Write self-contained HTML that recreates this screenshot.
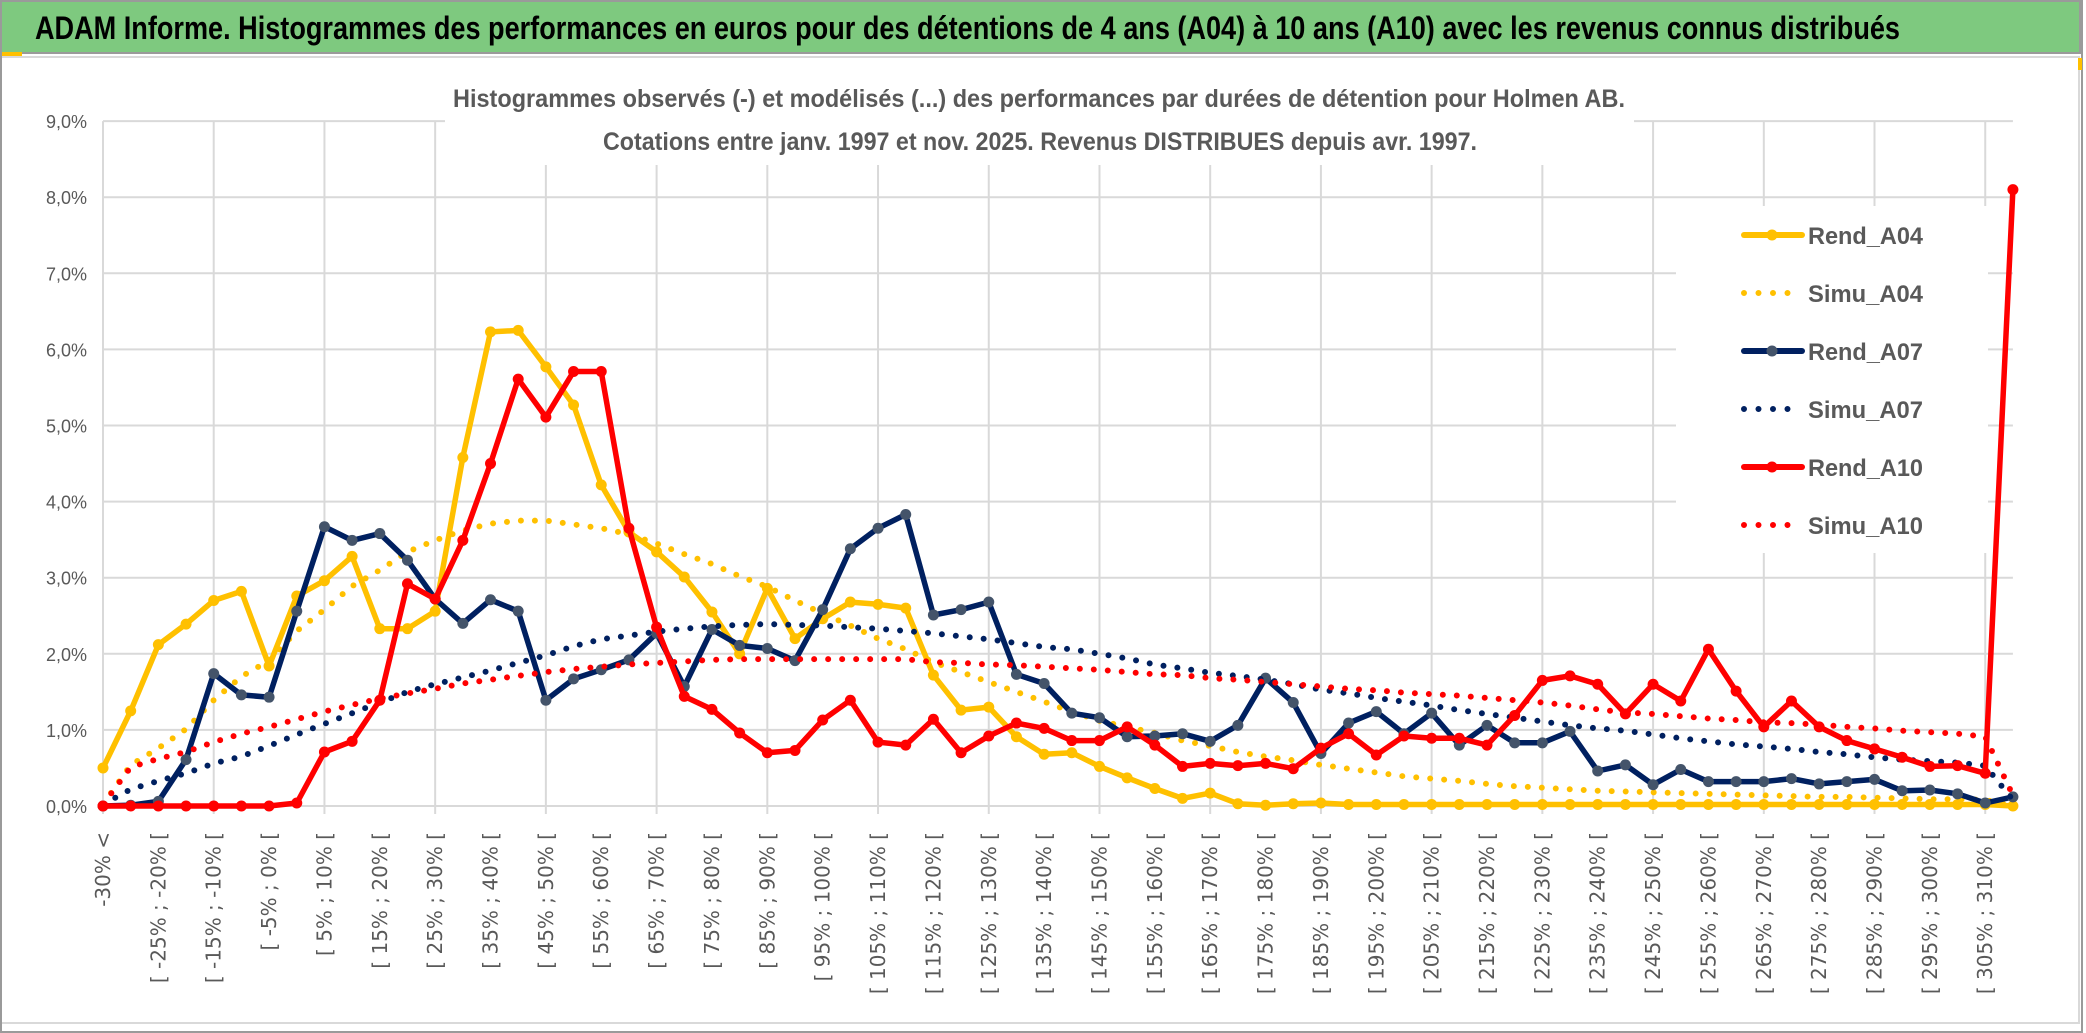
<!DOCTYPE html>
<html><head><meta charset="utf-8">
<style>
html,body{margin:0;padding:0;background:#fff;}
svg{display:block;}
</style></head>
<body>
<svg id="chart" width="2086" height="1033" viewBox="0 0 2086 1033" xmlns="http://www.w3.org/2000/svg">
  <rect x="0" y="0" width="2086" height="1033" fill="#ffffff"/>
  <rect x="1" y="1" width="2079" height="52" fill="#7ec97f" stroke="#9a9a9a" stroke-width="2"/>
  <text x="35" y="39" font-family="Liberation Sans, sans-serif" font-weight="bold" font-size="32" fill="#000" textLength="1865" lengthAdjust="spacingAndGlyphs">ADAM Informe. Histogrammes des performances en euros pour des détentions de 4 ans (A04) à 10 ans (A10) avec les revenus connus distribués</text>
  <rect x="0" y="52" width="22" height="4" fill="#ffc000"/>
  <rect x="1" y="57" width="2078" height="966" fill="none" stroke="#d9d9d9" stroke-width="2"/>
  <rect x="1" y="1" width="2081" height="1031" fill="none" stroke="#9a9a9a" stroke-width="2"/>
  <rect x="2078" y="58" width="4" height="12" fill="#ffc000"/>
  <g id="grid"></g>
  <rect x="445" y="60" width="1189" height="105" fill="#fff"/>
  <text x="1039" y="107" text-anchor="middle" font-family="Liberation Sans, sans-serif" font-weight="bold" font-size="25" fill="#595959" textLength="1172" lengthAdjust="spacingAndGlyphs">Histogrammes observés (-) et modélisés (...) des performances par durées de détention pour Holmen AB.</text>
  <text x="1040" y="150" text-anchor="middle" font-family="Liberation Sans, sans-serif" font-weight="bold" font-size="25" fill="#595959" textLength="874" lengthAdjust="spacingAndGlyphs">Cotations entre janv. 1997 et nov. 2025. Revenus DISTRIBUES depuis avr. 1997.</text>
  <g id="yaxis"></g>
  <g id="xaxis"></g>
  <rect x="1676" y="206" width="312" height="347" fill="#fff"/>
  <g id="series"></g>
  <g id="legend"></g>
</svg>
<script>
const categories = ["-30% <","[ -30% ; -25% [","[ -25% ; -20% [","[ -20% ; -15% [","[ -15% ; -10% [","[ -10% ; -5% [","[ -5% ; 0% [","[ 0% ; 5% [","[ 5% ; 10% [","[ 10% ; 15% [","[ 15% ; 20% [","[ 20% ; 25% [","[ 25% ; 30% [","[ 30% ; 35% [","[ 35% ; 40% [","[ 40% ; 45% [","[ 45% ; 50% [","[ 50% ; 55% [","[ 55% ; 60% [","[ 60% ; 65% [","[ 65% ; 70% [","[ 70% ; 75% [","[ 75% ; 80% [","[ 80% ; 85% [","[ 85% ; 90% [","[ 90% ; 95% [","[ 95% ; 100% [","[ 100% ; 105% [","[ 105% ; 110% [","[ 110% ; 115% [","[ 115% ; 120% [","[ 120% ; 125% [","[ 125% ; 130% [","[ 130% ; 135% [","[ 135% ; 140% [","[ 140% ; 145% [","[ 145% ; 150% [","[ 150% ; 155% [","[ 155% ; 160% [","[ 160% ; 165% [","[ 165% ; 170% [","[ 170% ; 175% [","[ 175% ; 180% [","[ 180% ; 185% [","[ 185% ; 190% [","[ 190% ; 195% [","[ 195% ; 200% [","[ 200% ; 205% [","[ 205% ; 210% [","[ 210% ; 215% [","[ 215% ; 220% [","[ 220% ; 225% [","[ 225% ; 230% [","[ 230% ; 235% [","[ 235% ; 240% [","[ 240% ; 245% [","[ 245% ; 250% [","[ 250% ; 255% [","[ 255% ; 260% [","[ 260% ; 265% [","[ 265% ; 270% [","[ 270% ; 275% [","[ 275% ; 280% [","[ 280% ; 285% [","[ 285% ; 290% [","[ 290% ; 295% [","[ 295% ; 300% [","[ 300% ; 305% [","[ 305% ; 310% [","[ 310% ; 315% ["];
const yTicks = [0,1,2,3,4,5,6,7,8,9];
const yTickLabels = ["0,0%","1,0%","2,0%","3,0%","4,0%","5,0%","6,0%","7,0%","8,0%","9,0%"];
const rendA04 = [0.50,1.25,2.12,2.39,2.70,2.82,1.84,2.76,2.96,3.28,2.33,2.33,2.56,4.58,6.23,6.25,5.77,5.27,4.22,
 3.60,3.34,3.01,2.55,2.00,2.86,2.20,2.46,2.68,2.65,2.60,1.72,1.26,1.30,0.91,0.68,0.70,0.52,
 0.37,0.23,0.10,0.17,0.03,0.01,0.03,0.04,0.02,0.02,0.02,0.02,0.02,0.02,0.02,0.02,0.02,0.02,
 0.02,0.02,0.02,0.02,0.02,0.02,0.02,0.02,0.02,0.02,0.02,0.02,0.02,0.02,0.00];
const simuA04 = [0.02,0.54,0.76,1.01,1.39,1.70,1.91,2.30,2.58,2.89,3.10,3.34,3.49,3.62,3.71,3.75,3.75,3.70,3.65,
 3.57,3.45,3.31,3.18,3.02,2.88,2.70,2.53,2.37,2.20,2.06,1.89,1.76,1.63,1.50,1.37,1.24,1.12,
 1.04,0.96,0.86,0.79,0.71,0.65,0.60,0.54,0.49,0.44,0.39,0.36,0.33,0.29,0.26,0.24,0.22,0.20,
 0.19,0.18,0.17,0.16,0.15,0.14,0.13,0.12,0.12,0.11,0.10,0.09,0.09,0.08,0.00];
const rendA07 = [0,0.01,0.06,0.61,1.74,1.46,1.43,2.56,3.67,3.49,3.58,3.23,2.72,2.40,2.71,2.56,1.39,1.67,1.79,
 1.92,2.27,1.57,2.32,2.11,2.07,1.91,2.58,3.38,3.65,3.83,2.51,2.58,2.68,1.73,1.61,1.22,1.16,
 0.91,0.92,0.95,0.85,1.06,1.68,1.36,0.69,1.09,1.24,0.95,1.22,0.80,1.06,0.83,0.83,0.98,0.46,
 0.54,0.28,0.48,0.32,0.32,0.32,0.36,0.29,0.32,0.35,0.20,0.21,0.16,0.04,0.12];
const simuA07 = [0.02,0.22,0.33,0.43,0.56,0.65,0.79,0.94,1.08,1.22,1.36,1.50,1.60,1.69,1.78,1.88,1.98,2.10,2.19,
 2.24,2.29,2.33,2.36,2.38,2.39,2.38,2.37,2.35,2.33,2.30,2.27,2.23,2.19,2.14,2.09,2.06,2.00,
 1.94,1.86,1.81,1.75,1.71,1.66,1.60,1.53,1.48,1.42,1.37,1.32,1.26,1.21,1.16,1.11,1.06,1.02,
 0.99,0.94,0.89,0.85,0.81,0.78,0.75,0.71,0.68,0.64,0.61,0.59,0.57,0.53,0.08];
const rendA10 = [0,0,0,0,0,0,0,0.04,0.71,0.85,1.39,2.92,2.72,3.49,4.50,5.61,5.11,5.71,5.71,
 3.65,2.35,1.44,1.27,0.96,0.70,0.73,1.13,1.39,0.84,0.80,1.14,0.70,0.92,1.09,1.02,0.86,0.86,
 1.04,0.80,0.52,0.56,0.53,0.56,0.49,0.76,0.95,0.67,0.92,0.89,0.89,0.80,1.19,1.65,1.71,1.60,
 1.21,1.60,1.38,2.06,1.51,1.04,1.38,1.04,0.86,0.75,0.64,0.52,0.53,0.43,8.10];
const simuA10 = [0.02,0.51,0.62,0.71,0.84,0.95,1.04,1.14,1.24,1.33,1.41,1.48,1.54,1.61,1.66,1.71,1.76,1.80,1.83,
 1.86,1.88,1.90,1.92,1.93,1.93,1.93,1.93,1.93,1.93,1.93,1.89,1.88,1.86,1.85,1.83,1.81,1.79,
 1.76,1.73,1.72,1.68,1.66,1.63,1.60,1.57,1.54,1.52,1.49,1.47,1.45,1.42,1.39,1.36,1.32,1.27,
 1.23,1.21,1.18,1.15,1.13,1.10,1.09,1.07,1.04,1.02,0.99,0.97,0.95,0.91,0.14];
const seriesNames = ["Rend_A04","Simu_A04","Rend_A07","Simu_A07","Rend_A10","Simu_A10"];

const NS = "http://www.w3.org/2000/svg";
const X0 = 103, STEP = 27.68, Y0 = 806, PER = 76.1;
function xPos(i){ return X0 + i*STEP; }
function yPos(v){ return Y0 - v*PER; }
function mk(tag, attrs, parent){ const e=document.createElementNS(NS,tag); for(const k in attrs) e.setAttribute(k,attrs[k]); parent.appendChild(e); return e; }

const grid = document.getElementById('grid');
const xEnd = xPos(categories.length-1);
yTicks.forEach(function(t){
  const l = mk('line',{x1:X0,x2:xEnd,y1:yPos(t),y2:yPos(t),stroke:'#d9d9d9','stroke-width':2},grid);
  
  
});
for(let i=0;i<categories.length;i+=4){
  const l = mk('line',{x1:xPos(i),x2:xPos(i),y1:yPos(9),y2:Y0+8,stroke:'#d9d9d9','stroke-width':2},grid);
  
  
}

const ya = document.getElementById('yaxis');
yTicks.forEach(function(t,k){
  const tx = mk('text',{x:87,y:yPos(t)+7,'text-anchor':'end','font-family':'Liberation Sans, sans-serif','font-size':18,fill:'#595959'},ya);
  tx.textContent = yTickLabels[k];
  
  
});

const xa = document.getElementById('xaxis');
categories.forEach(function(c,i){
  if(i%2!==0) return;
  const x = xPos(i), y = 832;
  const tx = mk('text',{x:x,y:y,transform:'rotate(-90 '+x+' '+y+')','text-anchor':'end','dominant-baseline':'central','font-family':'DejaVu Sans, sans-serif','font-size':20,fill:'#595959'},xa);
  tx.textContent = c;
  
  
});

const sg = document.getElementById('series');
function drawSolid(vals, color, mcolor, name){
  const g = mk('g',{},sg);
  
  
  const pts = vals.map(function(v,i){ return xPos(i).toFixed(1)+','+yPos(v).toFixed(1); }).join(' ');
  const pl = mk('polyline',{points:pts,fill:'none',stroke:color,'stroke-width':5.5,'stroke-linejoin':'round'},g);
  
  
  vals.forEach(function(v,i){
    const c = mk('circle',{cx:xPos(i),cy:yPos(v),r:5.5,fill:mcolor},g);
    
    
  });
}
function drawDotted(vals, color, name){
  const pts = vals.map(function(v,i){ return xPos(i).toFixed(1)+','+yPos(v).toFixed(1); }).join(' ');
  const pl = mk('polyline',{points:pts,fill:'none',stroke:color,'stroke-width':6,'stroke-linecap':'round','stroke-dasharray':'0 14'},sg);
  
  
}
drawSolid(rendA04,'#ffc000','#ffc000','rend-a04');
drawDotted(simuA04,'#ffc000','simu-a04');
drawSolid(rendA07,'#002060','#44546a','rend-a07');
drawDotted(simuA07,'#002060','simu-a07');
drawSolid(rendA10,'#ff0000','#ff0000','rend-a10');
drawDotted(simuA10,'#ff0000','simu-a10');

const lg = document.getElementById('legend');
const legColors = ['#ffc000','#ffc000','#002060','#002060','#ff0000','#ff0000'];
const legMarker = ['#ffc000','#ffc000','#44546a','#44546a','#ff0000','#ff0000'];
const legY = [235,293,351,409,467,525];
seriesNames.forEach(function(n,k){
  const y = legY[k];
  if(k%2===0){
    const l = mk('line',{x1:1744,x2:1802,y1:y,y2:y,stroke:legColors[k],'stroke-width':6,'stroke-linecap':'round'},lg);
    
    
    const c = mk('circle',{cx:1772,cy:y,r:5.5,fill:legMarker[k]},lg);
    
    
  } else {
    const l = mk('line',{x1:1744,x2:1802,y1:y,y2:y,stroke:legColors[k],'stroke-width':6,'stroke-linecap':'round','stroke-dasharray':'0 14.5'},lg);
    
    
  }
  const t = mk('text',{x:1808,y:y+9,'font-family':'Liberation Sans, sans-serif','font-weight':'bold','font-size':24,fill:'#595959',textLength:115,lengthAdjust:'spacingAndGlyphs'},lg);
  t.textContent = n;
  
  
});
</script>
</body></html>
